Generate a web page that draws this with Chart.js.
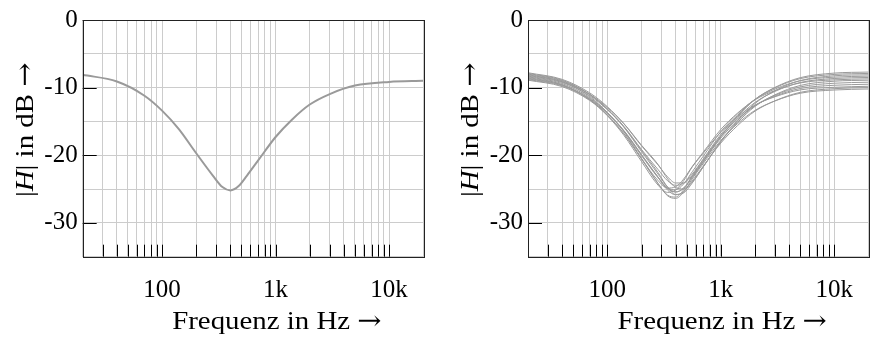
<!DOCTYPE html>
<html>
<head>
<meta charset="utf-8">
<script src="https://cdn.jsdelivr.net/npm/chart.js@4.4.1/dist/chart.umd.min.js"></script>
<style>
  html, body { margin: 0; padding: 0; background: #fff; }
  #wrap { position: relative; width: 872px; height: 339px; overflow: hidden; }
  canvas { position: absolute; top: 0; }
  #nominal { left: 0; }
  #spread { left: 445px; }
</style>
</head>
<body>
<div id="wrap">
  <canvas id="nominal" width="445" height="339"></canvas>
  <canvas id="spread" width="427" height="339"></canvas>
</div>
<script>
// Frequency grid (Hz) shared by all curves
const freqHz = [20, 40, 70, 100, 140, 200, 280, 340, 400, 470, 560, 700, 1000, 1400, 2000, 3000, 5000, 10000, 20000];

// Nominal magnitude response |H| in dB
const nominalDb = [-8.1, -9.1, -11.2, -13.4, -16.1, -19.7, -23.0, -24.7, -25.2, -24.6, -23.0, -20.8, -17.3, -14.7, -12.5, -10.95, -9.7, -9.15, -9.0];

// Responses with component tolerances (dB)
const run01 = [-7.8, -8.78, -10.78, -12.82, -15.35, -18.61, -21.44, -23.21, -24.1, -24.09, -23.01, -20.84, -17.16, -14.3, -11.76, -9.96, -8.53, -7.85, -7.7];
const run02 = [-8.0, -8.99, -11.03, -13.14, -15.73, -19.14, -22.12, -23.79, -24.44, -24.11, -22.77, -20.55, -16.9, -14.14, -11.73, -10.03, -8.67, -8.05, -7.9];
const run03 = [-8.2, -9.12, -10.99, -12.94, -15.32, -18.51, -21.36, -23.5, -24.77, -24.98, -23.96, -21.7, -17.94, -14.97, -12.34, -10.46, -8.96, -8.25, -8.1];
const run04 = [-8.4, -9.39, -11.49, -13.69, -16.42, -20.05, -23.33, -24.84, -25.1, -24.24, -22.44, -20.13, -16.52, -13.91, -11.73, -10.21, -8.98, -8.45, -8.3];
const run05 = [-7.9, -8.9, -10.99, -13.19, -15.86, -19.46, -22.79, -24.71, -25.43, -24.92, -23.31, -20.96, -17.27, -14.51, -12.19, -10.56, -9.24, -8.65, -8.5];
const run06 = [-8.6, -9.6, -11.77, -14.02, -16.81, -20.5, -23.75, -24.85, -24.66, -23.52, -21.66, -19.54, -16.18, -13.78, -11.8, -10.43, -9.31, -8.85, -8.7];
const run07 = [-8.3, -9.24, -11.19, -13.27, -15.81, -19.27, -22.56, -24.73, -25.79, -25.57, -24.1, -21.73, -18.01, -15.18, -12.78, -11.06, -9.68, -9.05, -8.9];
const run08 = [-8.8, -9.73, -11.73, -13.83, -16.44, -19.96, -23.23, -24.93, -25.43, -24.82, -23.18, -20.96, -17.46, -14.86, -12.68, -11.14, -9.9, -9.35, -9.2];
const run09 = [-8.1, -9.13, -11.33, -13.67, -16.54, -20.44, -24.16, -25.9, -26.18, -25.11, -23.03, -20.68, -17.16, -14.66, -12.66, -11.27, -10.13, -9.65, -9.5];
const run10 = [-8.5, -9.54, -11.79, -14.14, -17.06, -20.92, -24.43, -25.49, -25.12, -23.77, -21.73, -19.7, -16.54, -14.35, -12.58, -11.35, -10.34, -9.95, -9.8];
const run11 = [-8.7, -9.64, -11.62, -13.73, -16.34, -19.88, -23.26, -25.16, -25.85, -25.38, -23.79, -21.61, -18.19, -15.63, -13.48, -11.95, -10.7, -10.15, -10.0];
const run12 = [-8.9, -9.85, -11.9, -14.1, -16.83, -20.57, -24.21, -26.0, -26.38, -25.46, -23.49, -21.22, -17.81, -15.34, -13.37, -11.97, -10.83, -10.35, -10.2];
const toleranceRuns = [run01, run02, run03, run04, run05, run06, run07, run08, run09, run10, run11, run12];

// Axes
const xMin = 20, xMax = 20000;
const xTickValues = [20, 30, 40, 50, 60, 70, 80, 90, 100, 200, 300, 400, 500, 600, 700, 800, 900,
                     1000, 2000, 3000, 4000, 5000, 6000, 7000, 8000, 9000, 10000, 20000];
const xLabelValues = [100, 1000, 10000];
const xLabelTexts = ['100', '1k', '10k'];
const yMin = -35, yMax = 0;
const yGridValues = [-35, -30, -25, -20, -15, -10, -5, 0];
const yLabelValues = [0, -10, -20, -30];

const SERIF = '"Liberation Serif", "Times New Roman", serif';
const ARROW_FONT = '"DejaVu Serif", serif';
const xTitleParts = [['Frequenz in Hz ', 'normal', SERIF], ['\u2192', 'normal', ARROW_FONT]];
const yTitleParts = [['|', 'normal', SERIF], ['H', 'italic', SERIF], ['|', 'normal', SERIF],
                     [' in dB ', 'normal', SERIF], ['\u2192', 'normal', ARROW_FONT]];

const gridColor = '#cccccc';
const curveColor = '#9a9a9a';
const titleSize = 26;
const titleStretch = 1.11;

// Draws a run of differently styled text pieces starting at the origin
function drawRuns(ctx, parts) {
  let cx = 0;
  ctx.scale(titleStretch, 1);
  parts.forEach(([t, st, fam]) => {
    ctx.font = st + ' ' + titleSize + 'px ' + fam;
    ctx.fillText(t, cx, 0);
    cx += ctx.measureText(t).width;
  });
}

// Inward tick marks, frame and axis titles
const frameAndTitles = {
  id: 'frameAndTitles',
  afterDraw(chart) {
    const { ctx, chartArea: a, scales: { x, y } } = chart;
    ctx.save();
    ctx.strokeStyle = '#000';
    ctx.lineWidth = 1;
    ctx.beginPath();
    xTickValues.forEach(v => {
      if (v <= xMin || v >= xMax) return;
      const px = Math.round(x.getPixelForValue(v)) + 0.5;
      ctx.moveTo(px, a.bottom);
      ctx.lineTo(px, a.bottom - 12);
    });
    yLabelValues.forEach(v => {
      const py = Math.round(y.getPixelForValue(v)) + 0.5;
      ctx.moveTo(a.left, py);
      ctx.lineTo(a.left + 14, py);
    });
    ctx.stroke();

    ctx.strokeStyle = '#222';
    ctx.strokeRect(Math.round(a.left) + 0.5, Math.round(a.top) + 0.5,
                   Math.round(a.right - a.left), Math.round(a.bottom - a.top));

    ctx.fillStyle = '#000';
    ctx.textAlign = 'left';
    ctx.textBaseline = 'alphabetic';
    // x title
    ctx.save();
    ctx.translate(a.left + 89.5, 329);
    drawRuns(ctx, xTitleParts);
    ctx.restore();
    // y title, reading upwards
    ctx.save();
    ctx.translate(33, a.top + 177);
    ctx.rotate(-Math.PI / 2);
    drawRuns(ctx, yTitleParts);
    ctx.restore();
    ctx.restore();
  }
};

function toPoints(values) {
  return freqHz.map((f, i) => ({ x: f, y: values[i] }));
}

function makeChart(id, datasets, padRight, leftWidth) {
  return new Chart(document.getElementById(id), {
    type: 'line',
    data: { datasets },
    options: {
      responsive: false,
      animation: false,
      devicePixelRatio: 1,
      layout: { padding: { left: 0, top: 16, right: padRight, bottom: 0 } },
      plugins: { legend: { display: false }, tooltip: { enabled: false } },
      elements: { point: { radius: 0 }, line: { cubicInterpolationMode: 'monotone' } },
      scales: {
        x: {
          type: 'logarithmic', min: xMin, max: xMax,
          afterBuildTicks: s => { s.ticks = xTickValues.map(v => ({ value: v })); },
          afterFit: s => { s.height = 82.3; s.paddingLeft = 0; s.paddingRight = 0; },
          grid: { color: gridColor, lineWidth: 1, drawTicks: false },
          border: { display: false },
          ticks: {
            autoSkip: false, maxRotation: 0, minRotation: 0, padding: 19, color: '#000',
            font: { family: SERIF, size: 25 },
            callback: v => { const i = xLabelValues.indexOf(v); return i >= 0 ? xLabelTexts[i] : ''; }
          }
        },
        y: {
          type: 'linear', min: yMin, max: yMax,
          afterBuildTicks: s => { s.ticks = yGridValues.map(v => ({ value: v })); },
          afterFit: s => { s.width = leftWidth; },
          grid: { color: gridColor, lineWidth: 1, drawTicks: false },
          border: { display: false },
          ticks: {
            padding: 5, color: '#000',
            font: { family: SERIF, size: 25 },
            callback: v => yLabelValues.includes(v) ? String(v) : ''
          }
        }
      }
    },
    plugins: [frameAndTitles]
  });
}

makeChart('nominal', [{
  data: toPoints(nominalDb), borderColor: curveColor, borderWidth: 2, fill: false
}], 21.7, 82.7);

makeChart('spread', toleranceRuns.map(r => ({
  data: toPoints(r), borderColor: curveColor, borderWidth: 1, fill: false
})), 3.5, 83);
</script>
</body>
</html>
